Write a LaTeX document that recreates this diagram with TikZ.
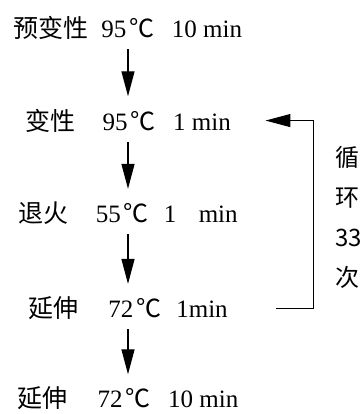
\documentclass[tikz,border=0pt]{standalone}
\usepackage{fontspec}
\setmainfont{Liberation Serif}
\newfontfamily\cjk{Noto Sans CJK SC}
\usetikzlibrary{arrows.meta,positioning,calc}

\begin{document}
\begin{tikzpicture}[x=1pt,y=1pt,>={Triangle[length=25pt,width=13pt]},line width=1.3pt,
 node distance=68pt,
 stepnode/.style={inner sep=0pt,font=\fontsize{25}{30}\selectfont},
 lab/.style={inner sep=0pt,align=left,font=\cjk\fontsize{24}{40}\selectfont}]
\useasboundingbox (0,0) rectangle (363,414);
\node[stepnode] (pre) at (128,386) {{\cjk 预变性}\hspace{0.5em}95\hspace{0.12em}{\cjk ℃}\hspace{0.7em}10 min};
\node[stepnode,below=of pre] (den) {{\cjk 变性}\hspace{1.1em}95\hspace{0.12em}{\cjk ℃}\hspace{0.7em}1 min};
\node[stepnode,below=of den] (ann) {{\cjk 退火}\hspace{1.1em}55\hspace{0.12em}{\cjk ℃}\hspace{0.6em}1\hspace{0.9em}min};
\node[stepnode,below=71pt of ann] (ext) {{\cjk 延伸}\hspace{1.2em}72\hspace{0.12em}{\cjk ℃}\hspace{0.6em}1min};
\node[stepnode,below=66pt of ext] (fin) {{\cjk 延伸}\hspace{1.2em}72\hspace{0.12em}{\cjk ℃}\hspace{0.7em}10 min};
\draw[->,shorten <=9pt,shorten >=12pt] (pre) -- (den);
\draw[->,shorten <=9pt,shorten >=12pt] (den) -- (ann);
\draw[->,shorten <=9pt,shorten >=12pt] (ann) -- (ext);
\draw[->,shorten <=9pt,shorten >=12pt] (ext) -- (fin);
% cycle loop
\coordinate[right=34pt of den] (lt);
\coordinate[right=48pt of ext] (lb);
\draw[->,line width=1.1pt] (lb) -- ++(37,0) |- (lt);
\node[lab,anchor=west] (cyc) at (335,197) {循\\环\\33\\次};
\end{tikzpicture}
\end{document}
